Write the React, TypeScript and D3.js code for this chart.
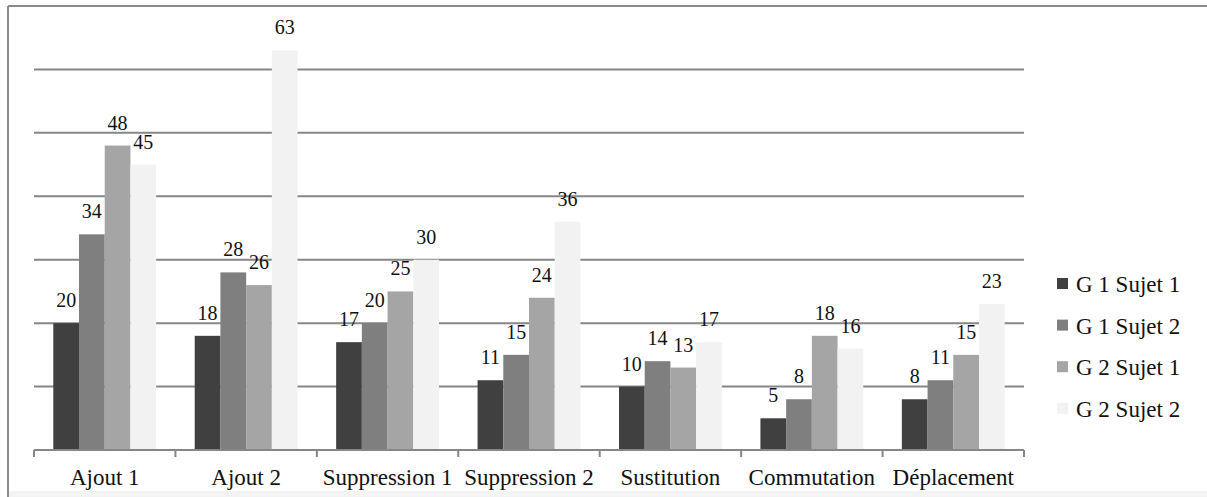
import React from "react";
import * as d3 from "d3";

const categories = ["Ajout 1", "Ajout 2", "Suppression 1", "Suppression 2", "Sustitution", "Commutation", "Déplacement"];
const seriesNames = ["G 1 Sujet 1", "G 1 Sujet 2", "G 2 Sujet 1", "G 2 Sujet 2"];
const g1s1 = [20, 18, 17, 11, 10, 5, 8];
const g1s2 = [34, 28, 20, 15, 14, 8, 11];
const g2s1 = [48, 26, 25, 24, 13, 18, 15];
const g2s2 = [45, 63, 30, 36, 17, 16, 23];
const gridTicks = [10, 20, 30, 40, 50, 60];
const colors = ["#404040", "#7f7f7f", "#a5a5a5", "#f2f2f2"];

const seriesValues = [g1s1, g1s2, g2s1, g2s2];

export default function App() {
  const W = 1207;
  const H = 497;
  const left = 34;
  const right = 1024;
  const baseY = 450;
  const topY = 6;
  const fontStyle = { fontFamily: "Liberation Serif, DejaVu Serif, Times New Roman, serif" };

  const x = d3.scaleBand<string>().domain(categories).range([left, right]).paddingInner(0).paddingOuter(0);
  const xs = d3.scaleBand<string>().domain(seriesNames).range([0, x.bandwidth()]).paddingInner(0).paddingOuter(0.75);
  const y = d3.scaleLinear().domain([0, 70]).range([baseY, topY]);

  const tickXs = [...categories.map((c) => x(c) as number), right];

  return (
    <svg width={W} height={H} style={{ position: "absolute", left: 0, top: 0, background: "#fff" }}>
      <rect x={0} y={0} width={W} height={H} fill="#ffffff" />
      <rect x={9} y={491} width={W - 9} height={H - 491} fill="#f3f3f3" />
      {/* frame */}
      <line x1={8} y1={6} x2={W} y2={6} stroke="#8c8c8c" strokeWidth={2} />
      <line x1={8} y1={6} x2={8} y2={H} stroke="#8c8c8c" strokeWidth={2} />
      {/* gridlines */}
      {gridTicks.map((t) => (
        <line key={t} x1={left} x2={right} y1={y(t)} y2={y(t)} stroke="#868686" strokeWidth={2} />
      ))}
      {/* bars */}
      {categories.map((c, ci) => (
        <g key={c}>
          {seriesNames.map((s, si) => {
            const v = seriesValues[si][ci];
            const bx = (x(c) as number) + (xs(s) as number);
            return (
              <rect key={s} x={bx} y={y(v)} width={xs.bandwidth()} height={baseY - y(v)} fill={colors[si]} />
            );
          })}
        </g>
      ))}
      {/* value labels */}
      {categories.map((c, ci) => (
        <g key={c + "-lbl"}>
          {seriesNames.map((s, si) => {
            const v = seriesValues[si][ci];
            const cx = (x(c) as number) + (xs(s) as number) + xs.bandwidth() / 2;
            return (
              <text key={s} x={cx} y={y(v) - 16} textAnchor="middle" style={fontStyle} fontSize={20} fill="#111">
                {v}
              </text>
            );
          })}
        </g>
      ))}
      {/* axis */}
      <line x1={left} x2={right} y1={baseY} y2={baseY} stroke="#868686" strokeWidth={2} />
      {tickXs.map((tx, i) => (
        <line key={i} x1={tx} x2={tx} y1={baseY} y2={baseY + 7} stroke="#868686" strokeWidth={2} />
      ))}
      {categories.map((c) => (
        <text key={c + "-ax"} x={(x(c) as number) + x.bandwidth() / 2} y={485} textAnchor="middle" style={fontStyle} fontSize={23} fill="#111">
          {c}
        </text>
      ))}
      {/* legend */}
      {seriesNames.map((s, i) => (
        <g key={s + "-leg"} transform={`translate(1057, ${278 + i * 41.6})`}>
          <rect x={0} y={0} width={11} height={11} fill={colors[i]} />
          <text x={19} y={14} style={fontStyle} fontSize={23} fill="#111">
            {s}
          </text>
        </g>
      ))}
    </svg>
  );
}
